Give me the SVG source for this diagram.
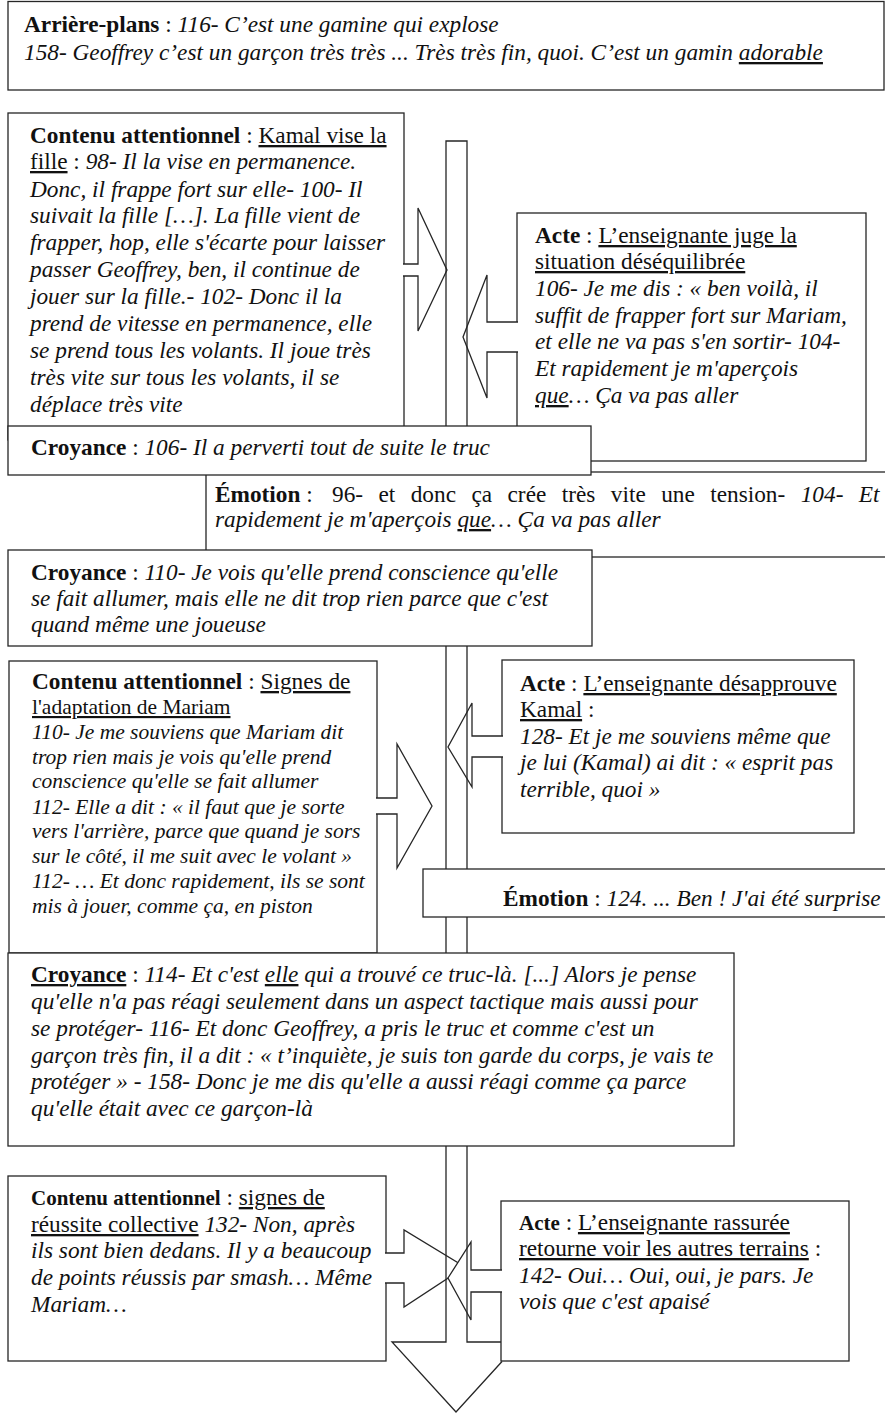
<svg xmlns="http://www.w3.org/2000/svg" width="885" height="1417" viewBox="0 0 885 1417">
<style>
.box{fill:#fff;stroke:#262626;stroke-width:1.3}
.arr{fill:#fff;stroke:#262626;stroke-width:1.3;stroke-linejoin:miter}
.ln{fill:none;stroke:#262626;stroke-width:1.3}
text{font-family:"Liberation Serif","Times New Roman",serif;font-size:23.3px;fill:#111}
.b{font-weight:bold}
.i{font-style:italic}
.u{text-decoration:underline}
.s{font-size:21.5px}
.h{font-size:21px}
</style>
<rect width="885" height="1417" fill="#fff"/>

<g id="arriere-plans">
<rect class="box" x="8" y="1.5" width="876" height="88.5"/>
<text x="24" y="32"><tspan class="b">Arrière-plans</tspan> : <tspan class="i">116- C’est une gamine qui explose</tspan></text>
<text x="24" y="60" class="i">158- Geoffrey c’est un garçon très très ... Très très fin, quoi. C’est un gamin <tspan class="u">adorable</tspan></text>
</g>

<g id="contenu1">
<rect class="box" x="8" y="113" width="396" height="327"/>
<text x="30" y="143"><tspan class="b">Contenu attentionnel</tspan> : <tspan class="u">Kamal vise la</tspan></text>
<text x="30" y="169"><tspan class="u">fille</tspan> : <tspan class="i">98- Il la vise en permanence.</tspan></text>
<text x="30" y="197" class="i">Donc, il frappe fort sur elle- 100- Il</text>
<text x="30" y="223" class="i">suivait la fille […]. La fille vient de</text>
<text x="30" y="250" class="i">frapper, hop, elle s'écarte pour laisser</text>
<text x="30" y="277" class="i">passer Geoffrey, ben, il continue de</text>
<text x="30" y="304" class="i">jouer sur la fille.- 102- Donc il la</text>
<text x="30" y="331" class="i">prend de vitesse en permanence, elle</text>
<text x="30" y="358" class="i">se prend tous les volants. Il joue très</text>
<text x="30" y="385" class="i">très vite sur tous les volants, il se</text>
<text x="30" y="412" class="i">déplace très vite</text>
</g>

<g id="acte1">
<rect class="box" x="517" y="213" width="349" height="248"/>
<text x="535" y="243"><tspan class="b">Acte</tspan> : <tspan class="u">L’enseignante juge la</tspan></text>
<text x="535" y="269"><tspan class="u">situation déséquilibrée</tspan></text>
<text x="535" y="296" class="i">106- Je me dis : « ben voilà, il</text>
<text x="535" y="323" class="i">suffit de frapper fort sur Mariam,</text>
<text x="535" y="349" class="i">et elle ne va pas s'en sortir- 104-</text>
<text x="535" y="376" class="i">Et rapidement je m'aperçois</text>
<text x="535" y="403" class="i"><tspan class="u">que</tspan>… Ça va pas aller</text>
</g>

<g id="emotion1">
<rect class="box" x="206" y="472" width="700" height="85"/>
<text x="215" y="502"><tspan class="b">Émotion</tspan> :<tspan x="332" style="word-spacing:9.6px">96- et donc ça crée très vite une tension- <tspan class="i">104- Et</tspan></tspan></text>
<text x="215" y="527" class="i">rapidement je m'aperçois <tspan class="u">que</tspan>… Ça va pas aller</text>
</g>

<g id="croyance1">
<rect class="box" x="8" y="426" width="583" height="49"/>
<text x="31" y="455"><tspan class="b">Croyance</tspan> : <tspan class="i">106- Il a perverti tout de suite le truc</tspan></text>
</g>

<g id="croyance2">
<rect class="box" x="8" y="550" width="584" height="96"/>
<text x="31" y="580"><tspan class="b">Croyance</tspan> : <tspan class="i">110- Je vois qu'elle prend conscience qu'elle</tspan></text>
<text x="31" y="606" class="i">se fait allumer, mais elle ne dit trop rien parce que c'est</text>
<text x="31" y="632" class="i">quand même une joueuse</text>
</g>

<g id="contenu2">
<rect class="box" x="9" y="661" width="368" height="292"/>
<text x="32" y="689"><tspan class="b">Contenu attentionnel</tspan> : <tspan class="u">Signes de</tspan></text>
<text x="32" y="714" class="s"><tspan class="u">l'adaptation de Mariam</tspan></text>
<text x="32" y="739" class="i s">110- Je me souviens que Mariam dit</text>
<text x="32" y="764" class="i s">trop rien mais je vois qu'elle prend</text>
<text x="32" y="788" class="i s">conscience qu'elle se fait allumer</text>
<text x="32" y="814" class="i s">112- Elle a dit : « il faut que je sorte</text>
<text x="32" y="838" class="i s">vers l'arrière, parce que quand je sors</text>
<text x="32" y="863" class="i s">sur le côté, il me suit avec le volant »</text>
<text x="32" y="888" class="i s">112- … Et donc rapidement, ils se sont</text>
<text x="32" y="913" class="i s">mis à jouer, comme ça, en piston</text>
</g>

<g id="acte2">
<rect class="box" x="502" y="660" width="352" height="173"/>
<text x="520" y="691"><tspan class="b">Acte</tspan> : <tspan class="u">L’enseignante désapprouve</tspan></text>
<text x="520" y="717"><tspan class="u">Kamal</tspan> :</text>
<text x="520" y="744" class="i">128- Et je me souviens même que</text>
<text x="520" y="770" class="i">je lui (Kamal) ai dit : « esprit pas</text>
<text x="520" y="797" class="i">terrible, quoi »</text>
</g>

<g id="emotion2">
<rect class="box" x="423" y="869" width="480" height="48"/>
<text x="503" y="906"><tspan class="b">Émotion</tspan> : <tspan class="i">124. ... Ben ! J'ai été surprise</tspan></text>
</g>

<g id="croyance3">
<rect class="box" x="8" y="953" width="726" height="193"/>
<text x="31" y="982"><tspan class="b u">Croyance</tspan> : <tspan class="i">114- Et c'est <tspan class="u">elle</tspan> qui a trouvé ce truc-là. [...] Alors je pense</tspan></text>
<text x="31" y="1009" class="i">qu'elle n'a pas réagi seulement dans un aspect tactique mais aussi pour</text>
<text x="31" y="1036" class="i">se protéger- 116- Et donc Geoffrey, a pris le truc et comme c'est un</text>
<text x="31" y="1063" class="i">garçon très fin, il a dit : « t’inquiète, je suis ton garde du corps, je vais te</text>
<text x="31" y="1089" class="i">protéger » - 158- Donc je me dis qu'elle a aussi réagi comme ça parce</text>
<text x="31" y="1116" class="i">qu'elle était avec ce garçon-là</text>
</g>

<g id="contenu3">
<rect class="box" x="8" y="1176" width="378" height="185"/>
<text x="31" y="1205"><tspan class="b h">Contenu attentionnel</tspan> : <tspan class="u">signes de</tspan></text>
<text x="31" y="1232"><tspan class="u">réussite collective</tspan> <tspan class="i">132- Non, après</tspan></text>
<text x="31" y="1258" class="i">ils sont bien dedans. Il y a beaucoup</text>
<text x="31" y="1285" class="i">de points réussis par smash… Même</text>
<text x="31" y="1312" class="i">Mariam…</text>
</g>

<g id="acte3">
<rect class="box" x="501" y="1201" width="348" height="160"/>
<text x="519" y="1230"><tspan class="b h">Acte</tspan> : <tspan class="u">L’enseignante rassurée</tspan></text>
<text x="519" y="1256"><tspan class="u">retourne voir les autres terrains</tspan> :</text>
<text x="519" y="1283" class="i">142- Oui… Oui, oui, je pars. Je</text>
<text x="519" y="1309" class="i">vois que c'est apaisé</text>
</g>

<g id="connectors">
<path class="arr" d="M403,264 H418 V208 L447,270 L418,331 V276 H403"/>
<path class="arr" d="M518,322 H487 V275 L463,337 L487,398 V352 H518"/>
<path class="arr" d="M376,798 H397 V744 L432,806 L397,868 V814 H376"/>
<path class="arr" d="M503,736 H472 V703 L448,747 L472,787 V757 H503"/>
<path class="arr" d="M385,1253 H404 V1230 L465,1267 L404,1307 V1283 H385"/>
<path class="arr" d="M502,1270 H471 V1242 L448,1278 L471,1320 V1292 H502"/>
<path class="ln" d="M446,426 V141 H467 V426 M446,646 V869 M467,646 V869 M446,917 V953 M467,917 V953 M446,1146 V1342 H392 L456,1412 L502,1361.5 M467,1146 V1342 H501"/>
</g>
</svg>
